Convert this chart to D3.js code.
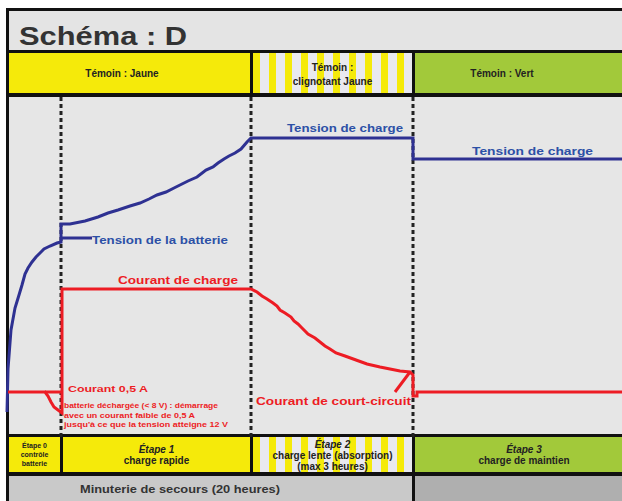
<!DOCTYPE html>
<html>
<head>
<meta charset="utf-8">
<script src="https://cdn.jsdelivr.net/npm/d3@7"></script>
<style>
  body { margin: 0; background: #fff; }
  svg { display: block; font-family: "Liberation Sans", Arial, sans-serif; font-weight: bold; }
</style>
</head>
<body>
<div id="chart"></div>
<script>
// phase boundaries (time units)
const phaseBounds = [0, 5.5, 24.5, 40.7, 61.6];
const topLabels = [["Témoin : Jaune"], ["Témoin :", "clignotant Jaune"], ["Témoin : Vert"]];
const stepLabels = [["Étape 0", "contrôle", "batterie"], ["Étape 1", "charge rapide"], ["Étape 2", "charge lente (absorption)", "(max 3 heures)"], ["Étape 3", "charge de maintien"]];
const timerLabel = "Minuterie de secours (20 heures)";

// battery voltage (blue) [t, v]
const voltage = [
  [0.1, 2.2], [0.2, 6.5], [0.5, 10.4], [0.9, 12.6], [1.3, 13.9], [1.6, 14.9], [1.9, 16.0],
  [2.2, 16.6], [2.6, 17.2], [3.0, 17.7], [3.4, 18.1], [3.8, 18.5], [4.4, 18.8], [5.1, 19.1],
  [5.5, 19.2], [5.5, 21.0], [6.4, 21.0], [7.9, 21.3], [9.2, 21.7], [10.2, 22.1], [11.2, 22.4],
  [12.4, 22.8], [13.4, 23.1], [14.3, 23.5], [15.1, 23.9], [16.0, 24.2], [16.8, 24.6], [17.4, 24.9],
  [18.2, 25.3], [19.1, 25.7], [20.0, 26.4], [20.7, 26.7], [21.2, 27.1], [21.8, 27.5], [22.3, 27.8],
  [22.9, 28.1], [23.5, 28.5], [24.1, 29.2], [24.5, 29.6], [40.7, 29.6], [40.7, 27.5], [61.6, 27.5]
];
// charge current (red) [t, i]
const current = [
  [0.2, 4.2], [3.9, 4.2], [4.2, 3.8], [4.5, 3.2], [4.8, 2.7], [5.2, 2.4], [5.6, 2.1], [5.6, 14.5],
  [24.5, 14.5], [25.1, 14.2], [25.6, 13.8], [26.1, 13.5], [26.7, 13.1], [27.1, 12.8], [27.4, 12.4],
  [27.9, 12.1], [28.5, 11.7], [28.8, 11.3], [29.2, 11.0], [29.6, 10.6], [30.2, 10.0], [30.9, 9.6],
  [31.4, 9.2], [31.9, 8.8], [32.4, 8.5], [33.0, 8.1], [33.9, 7.8], [35.0, 7.4], [36.1, 7.0],
  [37.4, 6.7], [39.4, 6.3], [40.4, 6.2], [40.7, 5.9], [40.7, 3.8], [41.1, 3.8], [41.1, 4.2], [61.6, 4.2]
];
const blueLeader = [[5.5, 19.6], [8.6, 19.6]];
const redLeaders = [[[3.9, 4.2], [5.6, 4.2]], [[38.9, 4.2], [40.4, 6.2]]];

const W = 622, H = 501;
const chartTop = 97, chartBottom = 434;
const x = d3.scaleLinear().domain([0, 61.6]).range([6, 622]);
const y = d3.scaleLinear().domain([0, 33.7]).range([chartBottom, chartTop]);

const YELLOW = "#f5ea0a", GREEN = "#a2c93a", BLUE = "#2e3192", BLUE_T = "#2c50a6", RED = "#ed1c24";

const svg = d3.select("#chart").append("svg").attr("width", W).attr("height", H);

const defs = svg.append("defs");
const pat = defs.append("pattern").attr("id", "stripes").attr("patternUnits", "userSpaceOnUse")
  .attr("x", 253).attr("y", 0).attr("width", 16).attr("height", 10);
pat.append("rect").attr("width", 16).attr("height", 10).attr("fill", "#e9e9ef");
pat.append("rect").attr("x", 0).attr("width", 7).attr("height", 10).attr("fill", YELLOW);

// frame
svg.append("rect").attr("x", 6).attr("y", 8).attr("width", W - 6).attr("height", H - 8).attr("fill", "#111");
svg.append("rect").attr("x", 9).attr("y", 11).attr("width", W - 9).attr("height", 39).attr("fill", "#e4e4e4");
svg.append("text").attr("x", 19).attr("y", 45).attr("font-size", 26).attr("fill", "#333")
  .attr("textLength", 168).attr("lengthAdjust", "spacingAndGlyphs").text("Schéma : D");

// header band
const bandFill = [YELLOW, "url(#stripes)", GREEN];
const hx = i => i === 0 ? 9 : x(phaseBounds[i + 1]) + 2;
const hx2 = i => i === 2 ? W : x(phaseBounds[i + 2]) - 1;
const headCx = [122, null, 502];
topLabels.forEach((lab, i) => {
  const x0 = hx(i), x1 = hx2(i);
  svg.append("rect").attr("x", x0).attr("y", 53).attr("width", x1 - x0).attr("height", 40).attr("fill", bandFill[i]);
  const cx = headCx[i] || (x0 + x1) / 2;
  lab.forEach((t, j) => {
    svg.append("text").attr("x", cx).attr("y", lab.length === 1 ? 77 : 71 + j * 14)
      .attr("text-anchor", "middle").attr("font-size", 10).attr("fill", "#222").text(t);
  });
});

// chart area
svg.append("rect").attr("x", 9).attr("y", chartTop).attr("width", W - 9).attr("height", chartBottom - chartTop).attr("fill", "#e6e6e6");

// phase separators
svg.selectAll("line.sep").data(phaseBounds.slice(1, 4)).enter().append("line")
  .attr("x1", d => x(d)).attr("x2", d => x(d)).attr("y1", chartTop).attr("y2", chartBottom + 3)
  .attr("stroke", "#222").attr("stroke-width", 3).attr("stroke-dasharray", "4,3");

const line = d3.line().x(d => x(d[0])).y(d => y(d[1]));

svg.append("path").datum(voltage).attr("d", line).attr("fill", "none").attr("stroke", BLUE).attr("stroke-width", 3);
svg.append("path").datum(blueLeader).attr("d", line).attr("fill", "none").attr("stroke", BLUE).attr("stroke-width", 3);
svg.append("path").datum(current).attr("d", line).attr("fill", "none").attr("stroke", RED).attr("stroke-width", 3);
redLeaders.forEach(l => svg.append("path").datum(l).attr("d", line).attr("fill", "none").attr("stroke", RED).attr("stroke-width", 3));

// curve labels [text, t, value, width, size, colour]
const labels = [
  ["Tension de charge", 28.1, 30.2, 116, 11, BLUE_T],
  ["Tension de charge", 46.6, 27.9, 121, 11, BLUE_T],
  ["Tension de la batterie", 8.6, 19.0, 136, 11, BLUE_T],
  ["Courant de charge", 11.2, 15.0, 120, 11, RED],
  ["Courant de court-circuit", 25.0, 2.9, 155, 10, RED],
  ["Courant 0,5 A", 6.2, 4.2, 80, 9, RED],
  ["batterie déchargée (< 8 V) : démarrage", 5.8, 2.6, 154, 8, RED],
  ["avec un courant faible de 0,5 A", 5.8, 1.6, 131, 8, RED],
  ["jusqu'à ce que la tension atteigne 12 V", 5.8, 0.7, 164, 8, RED]
];
labels.forEach(([t, tx, ty, w, s, c]) => {
  svg.append("text").attr("x", x(tx)).attr("y", y(ty)).attr("font-size", s).attr("fill", c)
    .attr("textLength", w).attr("lengthAdjust", "spacingAndGlyphs").text(t);
});

// bottom band
const stepBounds = [0].concat(phaseBounds.slice(1, 4));
stepLabels.forEach((lab, i) => {
  const x0 = i === 0 ? 9 : x(stepBounds[i]) + 2;
  const x1 = i === 3 ? W : x(stepBounds[i + 1]) - 1;
  svg.append("rect").attr("x", x0).attr("y", 437).attr("width", x1 - x0).attr("height", 35)
    .attr("fill", i === 3 ? GREEN : i === 2 ? "url(#stripes)" : YELLOW);
  const cx = i === 3 ? 524 : (x0 + x1) / 2;
  const fs = i === 0 ? 7 : 10;
  const y0 = lab.length === 3 ? 448 : 453;
  lab.forEach((t, j) => {
    svg.append("text").attr("x", cx).attr("y", y0 + j * (i === 0 ? 9 : 11))
      .attr("text-anchor", "middle").attr("font-size", fs).attr("fill", "#222")
      .attr("font-style", j === 0 && i > 0 ? "italic" : null).text(t);
  });
});

svg.append("rect").attr("x", 9).attr("y", 476).attr("width", x(phaseBounds[3]) - 10).attr("height", H - 476).attr("fill", "#c9c9c9");
svg.append("rect").attr("x", x(phaseBounds[3]) + 2).attr("y", 476).attr("width", W - x(phaseBounds[3]) - 2).attr("height", H - 476).attr("fill", "#afafaf");
svg.append("text").attr("x", 180).attr("y", 493).attr("text-anchor", "middle").attr("font-size", 10)
  .attr("textLength", 200).attr("lengthAdjust", "spacingAndGlyphs")
  .attr("fill", "#333").text(timerLabel);
</script>
</body>
</html>
